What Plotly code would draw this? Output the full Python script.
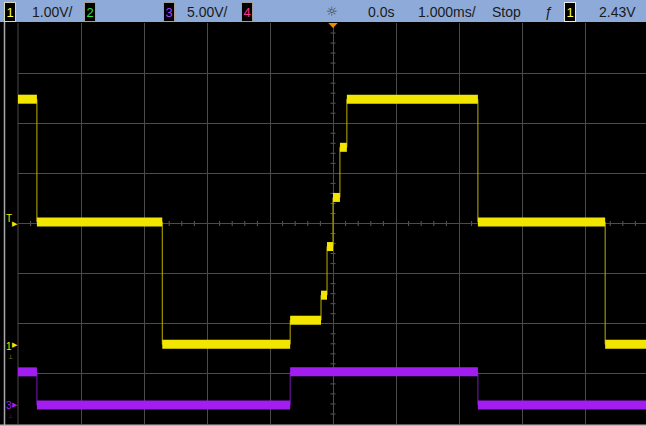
import numpy as np
import plotly.graph_objects as go

# Channel 1 (yellow, 1.00 V/div): segment start times (ms) and levels (V)
ch1_start_ms = [-5.0, -4.70, -2.71, -0.68, -0.19, -0.095, 0.0, 0.11, 0.22, 2.30, 4.32]
ch1_level_v = [4.91, 2.46, 0.02, 0.50, 1.00, 1.97, 2.95, 3.95, 4.91, 2.46, 0.02]
# Channel 3 (purple, 5.00 V/div)
ch3_start_ms = [-5.0, -4.70, -0.68, 2.30]
ch3_level_v = [3.3, 0.0, 3.3, 0.0]
end_ms = 5.0

ch1_scale, ch1_ground_div = 1.0, -2.43   # V/div, ground marker position (div)
ch3_scale, ch3_ground_div = 5.0, -3.62

header_items = ["1.00V/", "5.00V/", "0.0s", "1.000ms/", "Stop", "\u0192", "2.43V"]

# ---------------- geometry ----------------
W, H = 646, 426
L, T, R, B = 18, 23, 0, 2
PW, PH = W - L - R, H - T - B
DIV_PX = 63.0
x_range = [-5, -5 + PW / DIV_PX]


def px(x):
    return (x - L) / PW


def py(y):
    return (H - B - y) / PH


YEL = "#f2e600"
YEL_DIM = "#bdb000"
PUR = "#a21ef0"
PUR_DIM = "#7a18b8"
GRID = "#4b4b4b"

fig = go.Figure()


def add_channel(starts, levels, scale, ground, color, dim):
    xs = list(starts) + [end_ms]
    ys = [v / scale + ground for v in levels]
    # thin edges
    fig.add_trace(go.Scatter(x=xs, y=ys + [ys[-1]], mode="lines", line_shape="hv",
                             line=dict(color=dim, width=1), hoverinfo="skip", showlegend=False))
    # thick noisy plateaus
    sx, sy = [], []
    for i, v in enumerate(ys):
        sx += [xs[i], xs[i + 1], None]
        sy += [v, v, None]
    fig.add_trace(go.Scatter(x=sx, y=sy, mode="lines", line=dict(color=color, width=9),
                             hoverinfo="skip", showlegend=False))


add_channel(ch3_start_ms, ch3_level_v, ch3_scale, ch3_ground_div, PUR, PUR_DIM)
add_channel(ch1_start_ms, ch1_level_v, ch1_scale, ch1_ground_div, YEL, YEL_DIM)

shapes = [
    # header bar
    dict(type="rect", xref="paper", yref="paper", x0=px(0), x1=px(W), y0=py(22), y1=py(0),
         fillcolor="#8eaad8", line=dict(width=0), layer="above"),
    # left border line of the screen
    dict(type="line", xref="paper", yref="paper", x0=px(4.5), x1=px(4.5), y0=py(H), y1=py(22),
         line=dict(color="#a8a8a8", width=1.5)),
    # bottom light strip
    dict(type="rect", xref="paper", yref="paper", x0=px(0), x1=px(W), y0=py(H), y1=py(424.5),
         fillcolor="#b8b8b8", line=dict(width=0)),
    # left graticule edge
    dict(type="line", xref="paper", yref="paper", x0=0, x1=0, y0=0, y1=1,
         line=dict(color=GRID, width=1), layer="below"),
    # trigger-position marker
    dict(type="path", xref="x", yref="paper",
         path=f"M -0.075 {py(23)} L 0.075 {py(23)} L 0 {py(28)} Z",
         fillcolor="#f08a00", line=dict(width=0), layer="above"),
]

# center graticule minor ticks (every 1/5 division)
tick_half_x = 2.5 / DIV_PX
tick_half_y = 2.5 / (PH / 8)
for v in np.round(np.arange(-5, 5.01, 0.2), 3):
    if abs(v - round(v)) > 1e-6:
        shapes.append(dict(type="line", xref="x", yref="y", x0=v, x1=v,
                           y0=-tick_half_y, y1=tick_half_y,
                           line=dict(color="#5a5a5a", width=1), layer="below"))
for v in np.round(np.arange(-4, 4.01, 0.2), 3):
    if abs(v - round(v)) > 1e-6:
        shapes.append(dict(type="line", xref="x", yref="y", y0=v, y1=v,
                           x0=-tick_half_x, x1=tick_half_x,
                           line=dict(color="#5a5a5a", width=1), layer="below"))

ann = []
hdr_font = dict(family="Liberation Sans, Arial, sans-serif", size=14, color="#1a1a1a")
hy = py(11.5)
for txt, x in zip(header_items, [30, 185, 366, 416, 490, 543, 597]):
    ann.append(dict(text=txt, x=px(x), y=hy, xref="paper", yref="paper",
                    xanchor="left", yanchor="middle", showarrow=False, font=hdr_font))
ann.append(dict(text="\u263c", x=px(332), y=hy, xref="paper", yref="paper",
                xanchor="center", yanchor="middle", showarrow=False,
                font=dict(family="DejaVu Sans", size=13, color="#3a3a3a")))
for d, x, c, bc in [("1", 10, "#ffff40", "#d8d8b8"), ("2", 90, "#38e038", "#a0a0a0"),
                    ("3", 169, "#b040ff", "#a0a0a0"), ("4", 247, "#ff3090", "#a0a0a0"),
                    ("1", 570, "#ffff40", "#e8e8e8")]:
    ann.append(dict(text=d, x=px(x), y=hy, xref="paper", yref="paper",
                    xanchor="center", yanchor="middle", showarrow=False,
                    bgcolor="#000000", bordercolor=bc, borderwidth=1, borderpad=1,
                    width=8, height=16,
                    font=dict(family="Liberation Sans, Arial, sans-serif", size=13, color=c)))

# left-edge channel / trigger markers
mk_font = dict(family="Liberation Sans, Arial, sans-serif", size=10)
for lab, ydiv, col, dy in [("T", 0.0, YEL, -5), ("1", ch1_ground_div, YEL, 1), ("3", ch3_ground_div, PUR, 1)]:
    ann.append(dict(text=lab, x=px(9), y=ydiv, xref="paper", yref="y", yshift=-dy,
                    xanchor="center", yanchor="middle", showarrow=False,
                    font=dict(mk_font, color=col)))
    ann.append(dict(text="\u25b6", x=px(14.5), y=ydiv, xref="paper", yref="y",
                    xanchor="center", yanchor="middle", showarrow=False,
                    font=dict(family="DejaVu Sans", size=7, color=col)))
    if lab != "T":
        ann.append(dict(text="\u22a5", x=px(10), y=ydiv, xref="paper", yref="y", yshift=-11,
                        xanchor="center", yanchor="middle", showarrow=False,
                        font=dict(family="DejaVu Sans", size=6, color=YEL_DIM if lab == "1" else PUR_DIM)))

fig.update_layout(
    width=W, height=H, margin=dict(l=L, r=R, t=T, b=B, pad=0),
    paper_bgcolor="#000000", plot_bgcolor="#000000",
    xaxis=dict(range=x_range, dtick=1, tick0=0, showgrid=True, gridcolor=GRID, gridwidth=1,
               zeroline=False, showticklabels=False, ticks="", showline=False, fixedrange=True),
    yaxis=dict(range=[-4, 4], dtick=1, tick0=0, showgrid=True, gridcolor=GRID, gridwidth=1,
               zeroline=False, showticklabels=False, ticks="", showline=False, fixedrange=True),
    shapes=shapes, annotations=ann, showlegend=False, hovermode=False,
)

fig.write_html("out.html", config={"displayModeBar": False, "staticPlot": True},
               post_script="document.body.style.margin='0';document.body.style.padding='0';"
                           "document.body.style.overflow='hidden';")
